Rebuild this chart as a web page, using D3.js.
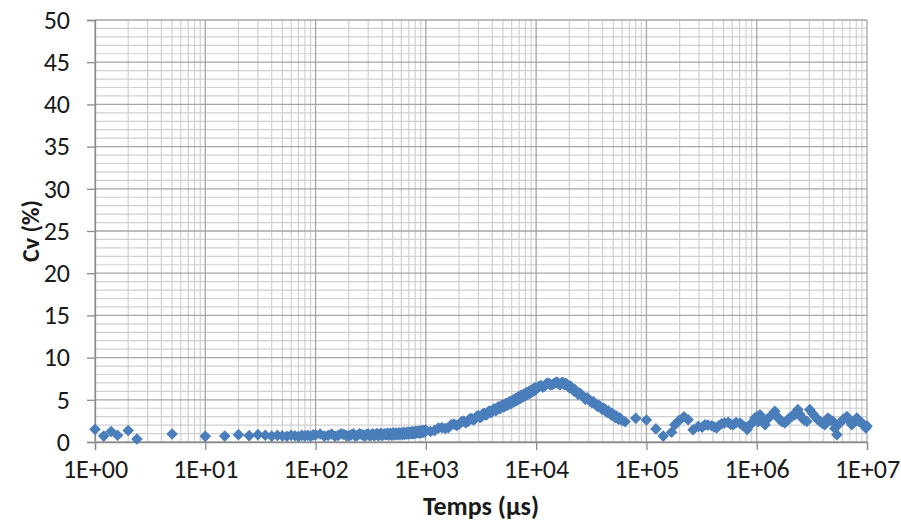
<!DOCTYPE html>
<html>
<head>
<meta charset="utf-8">
<script src="https://cdn.jsdelivr.net/npm/d3@7"></script>
<style>
  html, body { margin: 0; padding: 0; background: #fff; }
  svg { display: block; }
  text { font-family: "Carlito", "Liberation Sans", Arial, sans-serif; fill: #1a1a1a; }
</style>
</head>
<body>
<svg id="chart" width="901" height="530"></svg>
<script>
// ---- Data (time in µs, Cv in %) ----
const decade0 = [[1,1.5],[1.2,0.7],[1.4,1.25],[1.6,0.8],[2,1.37],[2.4,0.35],[5,0.95]];
const decade1 = [[10,0.67],[15,0.7],[20,0.87],[25,0.75],[30,0.87],[35,0.8],[40,0.7],[45,0.78],[50,0.72],
  [55,0.68],[60,0.8],[65,0.74],[70,0.66],[75,0.78],[80,0.72],[85,0.8],[90,0.69],[95,0.84]];
const decade2 = [[100,0.85],[120,0.7],[140,0.95],[160,0.78],[180,0.9],[200,0.72],[220,0.98],[240,0.8],
  [260,0.88],[280,0.7],[300,0.95],[320,0.82],[340,0.75],[360,1.0],[380,0.85],[400,0.78],[420,0.98],
  [440,0.86],[460,0.8],[480,1.02],[500,0.9],[520,0.84],[540,1.05],[560,0.92],[580,0.88],[600,1.08],
  [620,0.95],[640,0.9],[660,1.1],[680,0.98],[700,0.94],[720,1.15],[740,1.02],[760,0.98],[780,1.2],
  [800,1.05],[820,1.1],[840,1.25],[860,1.12],[880,1.08],[900,1.3],[920,1.18],[940,1.15],[960,1.35],[980,1.22]];
const decade2b = [[110,0.95],[130,0.78],[150,0.68],[170,0.98],[190,0.76],[210,0.85],[230,0.7],[250,0.97],
  [270,0.82],[290,0.92],[310,0.74],[330,0.98],[350,0.86],[370,0.76],[390,1.02],[410,0.84],[430,0.9],
  [450,1.05],[470,0.88],[490,0.82],[510,1.08],[530,0.94],[550,0.86],[570,1.1],[590,0.96],[610,0.9],
  [630,1.14],[650,1.0],[670,0.94],[690,1.18],[710,1.04],[730,0.98],[750,1.22],[770,1.06],[790,1.02],
  [810,1.27],[830,1.12],[850,1.06],[870,1.3],[890,1.16],[910,1.12],[930,1.36],[950,1.2],[970,1.18],[990,1.4]];
const decade3 = [[1000,1.38],[1200,1.35],[1400,1.7],[1600,1.7],[1800,2.12],[2000,2.1],[2200,2.47],
  [2400,2.4],[2600,2.77],[2800,2.75],[3000,3.12],[3200,3.0],[3400,3.37],[3600,3.3],[3800,3.67],
  [4000,3.6],[4200,3.92],[4400,3.8],[4600,4.17],[4800,4.05],[5000,4.37],[5200,4.25],[5400,4.57],
  [5600,4.45],[5800,4.77],[6000,4.65],[6200,4.97],[6400,4.85],[6600,5.17],[6800,5.05],[7000,5.37],
  [7200,5.2],[7400,5.52],[7600,5.4],[7800,5.67],[8000,5.55],[8200,5.82],[8400,5.68],[8600,5.97],
  [8800,5.82],[9000,6.12],[9200,5.98],[9400,6.27],[9600,6.12],[9800,6.42]];
const decade3b = [[1100,1.25],[1300,1.65],[1500,1.6],[1700,2.05],[1900,1.95],[2100,2.4],[2300,2.3],
  [2500,2.75],[2700,2.6],[2900,3.05],[3100,2.9],[3300,3.35],[3500,3.2],[3700,3.6],[3900,3.5],
  [4100,3.88],[4300,3.72],[4500,4.12],[4700,3.95],[4900,4.35],[5100,4.15],[5300,4.55],[5500,4.35],
  [5700,4.75],[5900,4.55],[6100,4.95],[6300,4.75],[6500,5.15],[6700,4.95],[6900,5.35],[7100,5.12],
  [7300,5.5],[7500,5.3],[7700,5.65],[7900,5.45],[8100,5.8],[8300,5.6],[8500,5.93],[8700,5.75],
  [8900,6.08],[9100,5.9],[9300,6.22],[9500,6.05],[9700,6.38],[9900,6.2]];
const decade4 = [[10000,6.3],[11000,6.68],[12000,6.65],[13000,6.95],[14000,6.82],[15000,7.05],
  [16000,6.88],[17000,7.0],[18000,6.78],[19000,6.85],[20000,6.42],[21000,6.38],[22000,6.05],
  [23000,6.02],[24000,5.65],[26000,5.52],[28000,5.05],[30000,5.02],[32000,4.65],[34000,4.57],
  [36000,4.2],[38000,4.17],[40000,3.85],[42000,3.87],[44000,3.5],[46000,3.52],[48000,3.2],
  [50000,3.22],[52000,2.9],[54000,2.97],[56000,2.7],[58000,2.77],[60000,2.55],[64000,2.4],[80000,2.8]];
const decade4b = [[10500,6.55],[11500,6.5],[12500,6.95],[13500,6.75],[14500,6.9],[15500,7.1],[16500,6.8],
  [17500,7.05],[18500,6.95],[19500,6.6],[20500,6.62],[21500,6.2],[22500,6.2],[23500,5.8],[25000,5.78],
  [27000,5.3],[29000,5.25],[31000,4.85],[33000,4.8],[35000,4.38],[37000,4.35],[39000,3.98],[41000,4.0],
  [43000,3.65],[45000,3.7],[47000,3.35],[49000,3.4],[51000,3.05],[53000,3.1],[55000,2.78],[57000,2.85]];
const decade5 = [[100000,2.6],[122000,1.55],[142000,0.7],[169000,1.15],[181000,2.05],[198000,2.56],
  [219000,3.0],[239000,2.64],[265000,1.45],[295000,1.85],[320000,1.75],[339000,2.05],[360000,2.0],
  [390000,1.93],[410000,1.8],[433000,1.66],[455000,1.95],[481000,2.17],[510000,2.25],[552000,2.32],
  [580000,2.1],[613000,2.05],[650000,2.3],[704000,2.25],[740000,2.0],[782000,1.78],[820000,1.5],
  [868000,2.05],[920000,2.3],[963000,2.84]];
const decade6 = [[1000000,3.0],[1030000,2.4],[1070000,3.23],[1120000,2.6],[1190000,2.05],[1250000,2.7],
  [1320000,3.03],[1400000,3.3],[1460000,3.63],[1540000,3.0],[1620000,2.64],[1700000,2.4],[1800000,2.25],
  [1900000,2.6],[2000000,2.84],[2100000,3.1],[2220000,3.23],[2360000,3.83],[2450000,3.3],[2570000,2.84],
  [2700000,2.6],[2850000,2.44],[3030000,3.83],[3200000,3.4],[3370000,3.03],[3550000,2.7],[3740000,2.44],
  [3950000,2.2],[4150000,2.05],[4420000,2.84],[4650000,2.6],[4910000,2.44],[5100000,1.6],[5330000,0.87],
  [5680000,2.25],[6100000,2.7],[6570000,3.03],[6900000,2.5],[7290000,2.05],[7700000,2.5],[8090000,2.84],
  [8500000,2.4],[8990000,2.25],[9400000,2.0],[9770000,1.66],[10000000,1.9]];

const yTicks = [0,5,10,15,20,25,30,35,40,45,50];
const xTicks = [1e0,1e1,1e2,1e3,1e4,1e5,1e6,1e7];
const xTitle = "Temps (µs)";
const yTitle = "Cv (%)";

const points = [].concat(decade0, decade1, decade2, decade2b, decade3, decade3b,
                         decade4, decade4b, decade5, decade6);

// ---- Layout ----
const svg = d3.select("#chart");
const L = 95, R = 867, T = 20, B = 442;
const FONT = 26;
const x = d3.scaleLog().domain([1, 1e7]).range([L, R]);
const y = d3.scaleLinear().domain([0, 50]).range([B, T]);

const grid = svg.append("g");
const minorX = [];
for (let e = 0; e < 7; e++) for (let m = 2; m <= 9; m++) minorX.push(m * Math.pow(10, e));
const minorY = d3.range(0, 51, 1).filter(v => v % 5 !== 0);

grid.selectAll(".mx").data(minorX).enter().append("line")
  .attr("x1", d => x(d)).attr("x2", d => x(d)).attr("y1", T).attr("y2", B)
  .attr("stroke", "#d0d0d0").attr("stroke-width", 1.2);
grid.selectAll(".my").data(minorY).enter().append("line")
  .attr("x1", L).attr("x2", R).attr("y1", d => y(d)).attr("y2", d => y(d))
  .attr("stroke", "#d0d0d0").attr("stroke-width", 1.2);
grid.selectAll(".Mx").data(xTicks).enter().append("line")
  .attr("x1", d => x(d)).attr("x2", d => x(d)).attr("y1", T).attr("y2", B)
  .attr("stroke", "#a6a6a6").attr("stroke-width", 1.3);
grid.selectAll(".My").data(yTicks).enter().append("line")
  .attr("x1", L).attr("x2", R).attr("y1", d => y(d)).attr("y2", d => y(d))
  .attr("stroke", "#a6a6a6").attr("stroke-width", 1.3);

// ---- Axes ----
const yAxis = svg.append("g").attr("transform", `translate(${L},0)`)
  .call(d3.axisLeft(y).tickValues(yTicks).tickSize(8).tickPadding(17).tickFormat(d3.format("d")));
const xAxis = svg.append("g").attr("transform", `translate(0,${B})`)
  .call(d3.axisBottom(x).tickValues(xTicks).tickSize(8).tickPadding(10)
    .tickFormat(d => "1E+" + String(Math.round(Math.log10(d))).padStart(2, "0")));
[yAxis, xAxis].forEach(g => {
  g.select(".domain").attr("stroke", "#8c8c8c").attr("stroke-width", 1.3);
  g.selectAll(".tick line").attr("stroke", "#8c8c8c").attr("stroke-width", 1.3);
  g.selectAll(".tick text").attr("font-size", FONT).attr("fill", "#1a1a1a")
    .style("font-family", '"Carlito", "Liberation Sans", Arial, sans-serif');
});

// ---- Points ----
svg.append("g").selectAll("path").data(points).enter().append("path")
  .attr("transform", d => `translate(${x(d[0])},${y(d[1])})`)
  .attr("d", "M0,-5.8L5.8,0L0,5.8L-5.8,0Z")
  .attr("fill", "#4a7ebb");

// ---- Titles ----
svg.append("text").attr("x", (L + R) / 2).attr("y", 515).attr("text-anchor", "middle")
  .attr("font-size", FONT).attr("font-weight", "bold").text(xTitle);
svg.append("text").attr("transform", `translate(31,${(T + B) / 2}) rotate(-90)`)
  .attr("text-anchor", "middle").attr("dy", "0.35em")
  .attr("font-size", 24).attr("font-weight", "bold").text(yTitle);
</script>
</body>
</html>
